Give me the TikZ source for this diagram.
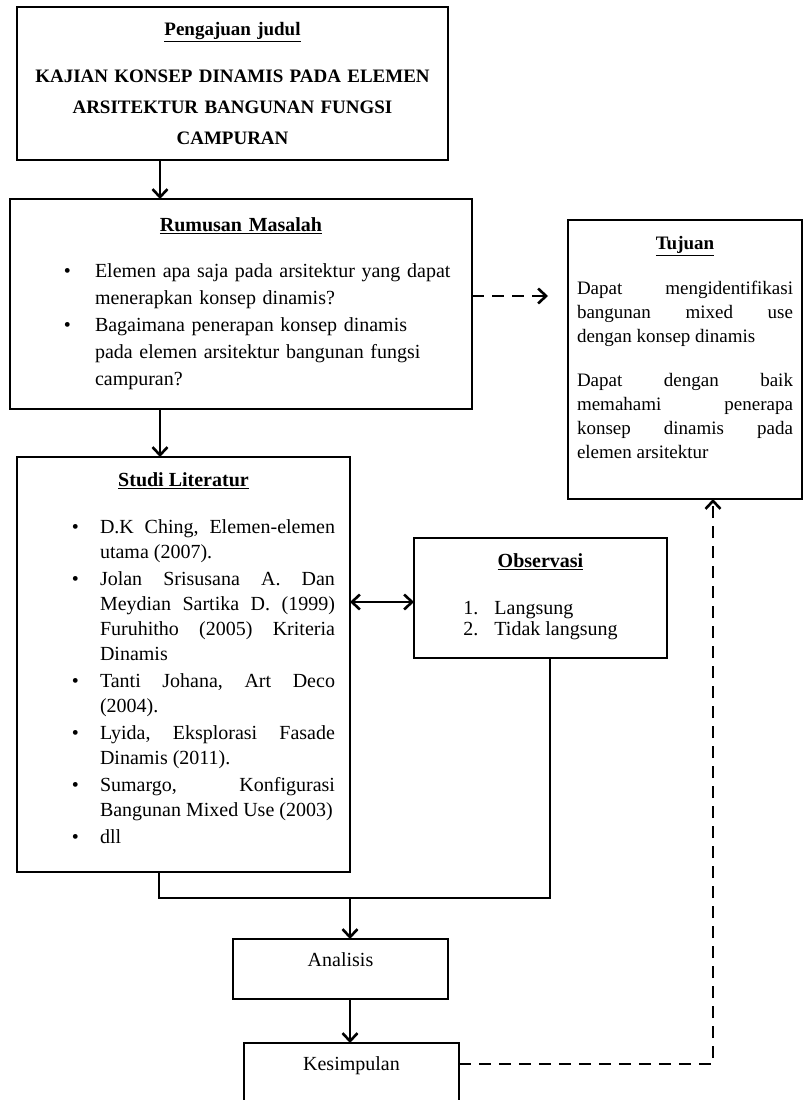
\documentclass[tikz,border=0pt]{standalone}
\usepackage{fontspec}
\setmainfont{Liberation Serif}
\usepackage{enumitem}
\usetikzlibrary{arrows.meta,positioning,calc}

\tolerance=10000
\hbadness=10000
\hyphenpenalty=10000
\exhyphenpenalty=10000
\frenchspacing

\newcommand{\kepala}[1]{\makebox[\linewidth]{\bfseries\underline{#1}}}
\newcommand{\ruangbawah}[1]{\par\vspace{#1}\hrule height 0pt width 0pt}

\begin{document}
\begin{tikzpicture}[
    x=1pt, y=-1pt,
    >={Straight Barb[length=8pt,width=15pt]},
    line width=2.6pt,
    kotak/.style={rectangle, draw, line width=2.6pt, outer sep=0pt, fill=white},
    putus/.style={dash pattern=on 12pt off 8pt},
]
\useasboundingbox (0,0) rectangle (804,1100);

% Judul
\node[kotak, anchor=north west, minimum width=431pt, minimum height=153pt, text width=411pt, align=center, font=\fontsize{19}{31}\selectfont\bfseries] (judul) at (17,7)
    {\underline{Pengajuan judul}\\[16pt]
     KAJIAN KONSEP DINAMIS PADA ELEMEN\\
     ARSITEKTUR BANGUNAN FUNGSI\\
     CAMPURAN};

% Rumusan masalah
\node[kotak, below=39pt of judul.south west, anchor=north west, xshift=-7pt, minimum width=462pt, minimum height=210pt, text width=442pt, align=left, font=\fontsize{20}{27}\selectfont] (rumusan)
    {\kepala{Rumusan Masalah}\par\vspace{19pt}
     \begin{itemize}[label=\textbullet, leftmargin=75pt, labelsep=24pt, nosep]
     \item Elemen apa saja pada arsitektur yang dapat\newline menerapkan konsep dinamis?
     \item Bagaimana penerapan konsep dinamis\newline pada elemen arsitektur bangunan fungsi\newline campuran?
     \end{itemize}};

% Tujuan
\node[kotak, right=96pt of rumusan.north east, anchor=north west, yshift=-21pt, minimum width=234pt, minimum height=279pt, text width=216pt, align=justify, font=\fontsize{19}{24}\selectfont] (tujuan)
    {\kepala{Tujuan}\par\vspace{21pt}
     Dapat mengidentifikasi\linebreak bangunan mixed use\linebreak dengan konsep dinamis\par\vspace{20pt}
     Dapat dengan baik\linebreak memahami penerapa\linebreak konsep dinamis pada\linebreak elemen arsitektur\ruangbawah{24pt}};

% Studi literatur
\node[kotak, below=48pt of rumusan.south west, anchor=north west, xshift=7pt, minimum width=333pt, minimum height=415pt, text width=309pt, align=justify, font=\fontsize{20}{25}\selectfont] (studi)
    {\kepala{Studi Literatur}\par\vspace{22pt}
     \begin{itemize}[label=\textbullet, leftmargin=71pt, rightmargin=3pt, labelsep=21pt, nosep, itemsep=2pt]
     \item D.K Ching, Elemen-elemen\linebreak utama (2007).
     \item Jolan Srisusana A. Dan\linebreak Meydian Sartika D. (1999)\linebreak Furuhitho (2005) Kriteria\linebreak Dinamis
     \item Tanti Johana, Art Deco\linebreak (2004).
     \item Lyida, Eksplorasi Fasade\linebreak Dinamis (2011).
     \item Sumargo, Konfigurasi\linebreak Bangunan Mixed Use (2003)
     \item dll
     \end{itemize}\ruangbawah{12pt}};

% Observasi
\node[kotak, right=64pt of studi.north east, anchor=north west, yshift=-81pt, minimum width=253pt, minimum height=120pt, align=center, font=\fontsize{20}{21}\selectfont] (observasi)
    {\underline{\textbf{Observasi}}\\[26pt]
     \begin{tabular}[t]{@{}l@{\hspace{16pt}}l@{}}1. & Langsung\\ 2. & Tidak langsung\end{tabular}};

% Analisis dan kesimpulan
\node[kotak, below=67pt of studi.south west, anchor=north west, xshift=216pt, minimum width=215pt, inner ysep=0pt, text height=27pt, text depth=33pt, font=\fontsize{20}{24}\selectfont] (analisis) {Analisis};
\node[kotak, below=44pt of analisis.south west, anchor=north west, xshift=11pt, minimum width=215pt, inner ysep=0pt, text height=27pt, text depth=45pt, font=\fontsize{20}{24}\selectfont] (kesimpulan) {Kesimpulan};

% Panah
\draw[->] ([xshift=143pt]judul.south west) -- ([xshift=143pt]judul.south west |- rumusan.north);
\draw[->, putus] ([yshift=8pt]rumusan.east) -- ([yshift=8pt, xshift=-20pt]rumusan.east -| tujuan.west);
\draw[->] ([xshift=150pt]rumusan.south west) -- ([xshift=150pt]rumusan.south west |- studi.north);
\draw[<->] ([yshift=-4pt]observasi.west -| studi.east) -- ([yshift=-4pt]observasi.west);

\coordinate (gabung) at ([yshift=-26pt]studi.south east);
\draw ([xshift=142pt]studi.south west) |- (gabung) -| ([xshift=136pt]observasi.south west);
\draw[->] (gabung) -- (gabung |- analisis.north);
\draw[->] (analisis.south -| gabung) -- (kesimpulan.north -| gabung);
\draw[->, putus] ([yshift=-21pt]kesimpulan.north east) -| ([xshift=145pt]tujuan.south west);

\end{tikzpicture}
\end{document}
